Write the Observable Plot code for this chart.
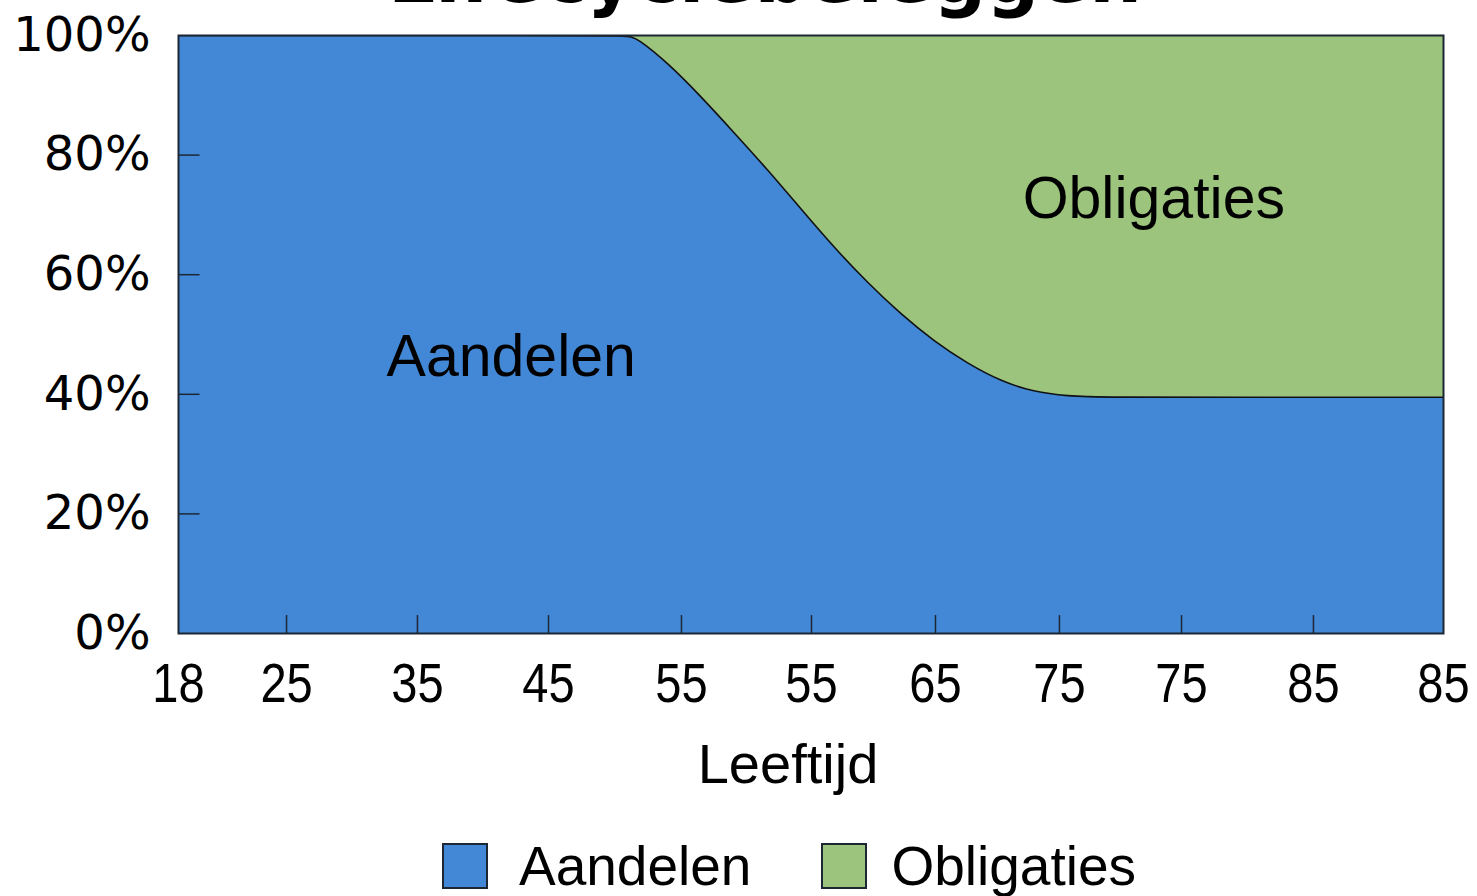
<!DOCTYPE html>
<html>
<head>
<meta charset="utf-8">
<script src="https://cdn.jsdelivr.net/npm/d3@7"></script>
<script src="https://cdn.jsdelivr.net/npm/@observablehq/plot@0.6"></script>
<style>
  body { margin: 0; background: #fff; width: 1477px; height: 896px; overflow: hidden; position: relative; }
  #chart svg { display: block; }
  #title { position: absolute; top: -61px; left: 765px; transform: translateX(-50%); font: bold 74px "DejaVu Sans", sans-serif; line-height: 74px; white-space: nowrap; color: #000; }
  #legend { position: absolute; top: 843px; left: 442px; display: flex; align-items: center; font: 55px "Liberation Sans", Arial, sans-serif; color: #000; line-height: 46px; }
  .sw { width: 42px; height: 42px; border: 2px solid #1c2733; box-sizing: content-box; }
  .item { display: flex; align-items: center; }
</style>
</head>
<body>
<div id="chart"></div>
<div id="title">Lifecyclebeleggen</div>
<div id="legend"></div>
<script>
// Categories and colours
const klassen = ["Aandelen", "Obligaties"];
const kleuren = ["#4288d6", "#9cc47c"];

// Axis tick positions (along the age axis) and the labels printed there
const tickPos = [0, 0.854, 1.889, 2.925, 3.976, 5.004, 5.984, 6.964, 7.929, 8.972, 10];
const tickLabels = ["18", "25", "35", "45", "55", "55", "65", "75", "75", "85", "85"];
const yTicks = [0, 20, 40, 60, 80, 100];

// Series (position along age axis, percentage)
const posities = [0, 3.0, 3.56, 3.62, 3.87, 4.13, 4.39, 4.66, 4.92, 5.18, 5.45, 5.71, 5.97, 6.24, 6.50, 6.76, 7.03, 7.3, 8.5, 10];
const aandelen = [100, 100, 100, 99.6, 95.4, 89.8, 83.8, 77.5, 71.0, 64.6, 58.6, 53.4, 48.9, 45.1, 42.2, 40.4, 39.7, 39.5, 39.5, 39.5];
const obligaties = [0, 0, 0, 0.4, 4.6, 10.2, 16.2, 22.5, 29.0, 35.4, 41.4, 46.6, 51.1, 54.9, 57.8, 59.6, 60.3, 60.5, 60.5, 60.5];

// In-chart labels
const noteLabels = ["Aandelen", "Obligaties"];
const notePos = [2.63, 7.71];
const notePct = [46.2, 72.7];

const rows = [
  ...posities.map((p, i) => ({pos: p, pct: aandelen[i], klasse: "Aandelen"})),
  ...posities.map((p, i) => ({pos: p, pct: obligaties[i], klasse: "Obligaties"}))
];
const grens = posities.map((p, i) => ({pos: p, pct: aandelen[i]}));
const notes = noteLabels.map((l, i) => ({label: l, pos: notePos[i], pct: notePct[i]}));
const innerTicks = tickPos.slice(1, -1);
const curve = "basis";

const chart = Plot.plot({
  width: 1477,
  height: 810,
  marginLeft: 178,
  marginRight: 34,
  marginTop: 35,
  marginBottom: 177,
  x: {domain: [0, 10]},
  y: {domain: [0, 100]},
  color: {domain: klassen, range: kleuren},
  style: {background: "#fff", color: "#000"},
  marks: [
    Plot.areaY(rows, {x: "pos", y: "pct", fill: "klasse", order: klassen, curve, clip: true}),
    Plot.line(grens, {x: "pos", y: "pct", stroke: "#111", strokeWidth: 1.6, curve, clip: true}),
    Plot.ruleX(innerTicks, {y1: 0, y2: 3, stroke: "#1c2733", strokeWidth: 1.5}),
    Plot.ruleY([20, 40, 60, 80], {x1: 0, x2: 0.17, stroke: "#1c2733", strokeWidth: 1.5}),
    Plot.frame({stroke: "#1c2733", strokeWidth: 2}),
    Plot.axisX({ticks: tickPos, tickFormat: d => tickLabels[tickPos.indexOf(d)], tickSize: 0, tickPadding: 29, fontSize: 56, fontFamily: "'Liberation Sans', Arial, sans-serif", label: null}),
    Plot.axisY({ticks: yTicks, tickFormat: d => d + "%", tickSize: 0, tickPadding: 28, fontSize: 48, fontFamily: "'DejaVu Sans', sans-serif", label: null}),
    Plot.text(["Leeftijd"], {frameAnchor: "bottom", dx: -23, dy: 149, fontSize: 56, fontFamily: "'Liberation Sans', Arial, sans-serif", fill: "#000"}),
    Plot.text(notes, {x: "pos", y: "pct", text: "label", fontSize: 59, fontFamily: "'Liberation Sans', Arial, sans-serif", fill: "#000"})
  ]
});
document.getElementById("chart").appendChild(chart);

// Narrow the x tick labels (the reference uses a condensed face)
chart.querySelectorAll('g[aria-label="x-axis tick label"] text').forEach(t => {
  const tr = t.getAttribute("transform");
  if (tr) t.setAttribute("transform", tr + " scale(0.84,1)");
});

// Legend
const legend = document.getElementById("legend");
klassen.forEach((k, i) => {
  const item = document.createElement("div");
  item.className = "item";
  item.style.marginRight = i === 0 ? "70px" : "0";
  const sw = document.createElement("div");
  sw.className = "sw";
  sw.style.background = kleuren[i];
  sw.style.marginRight = i === 0 ? "31px" : "24px";
  const t = document.createElement("span");
  t.textContent = k;
  item.appendChild(sw);
  item.appendChild(t);
  legend.appendChild(item);
});
</script>
</body>
</html>
